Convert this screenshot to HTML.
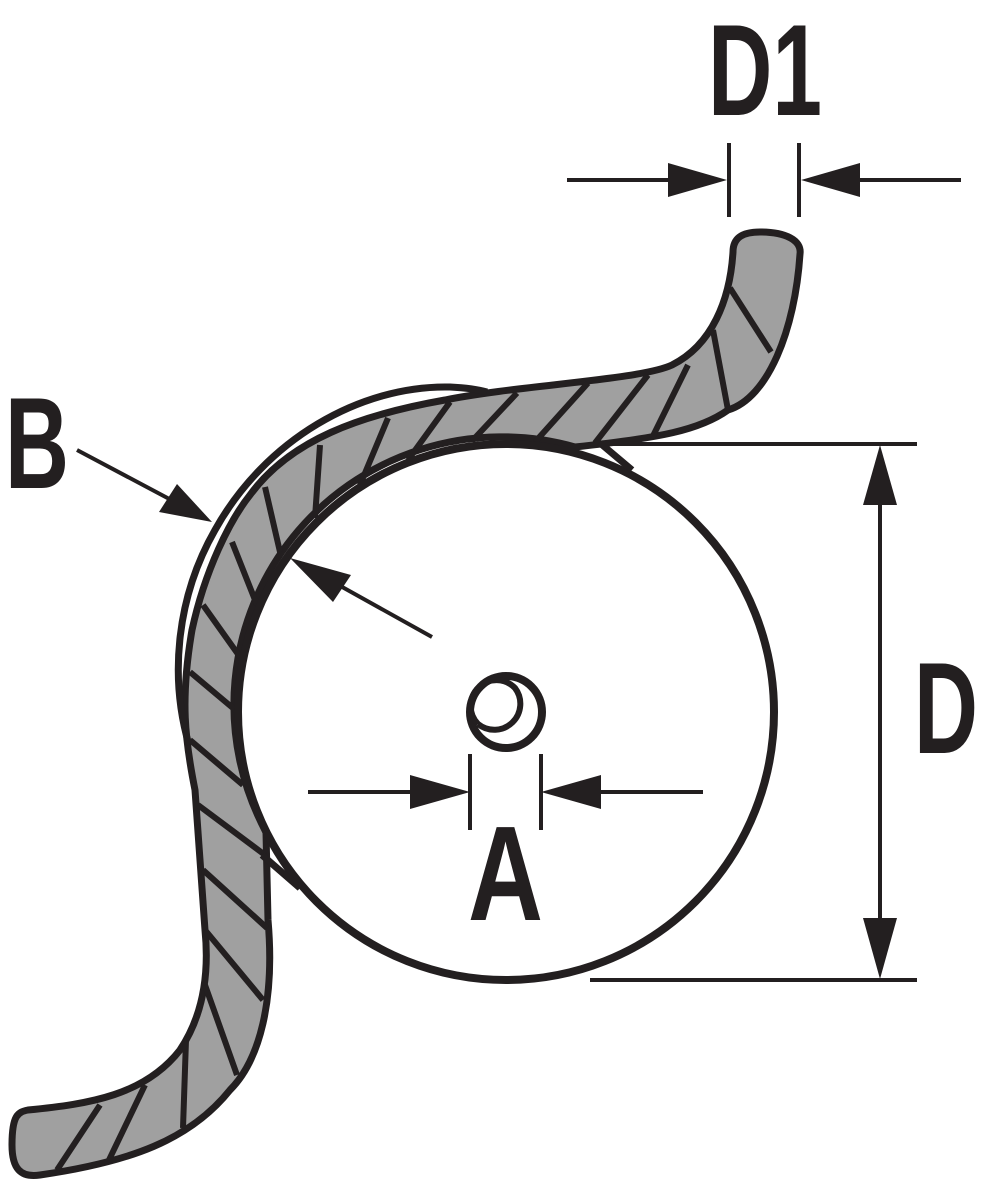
<!DOCTYPE html>
<html><head><meta charset="utf-8"><style>html,body{margin:0;padding:0;background:#fff}svg{display:block}</style></head>
<body>
<svg width="983" height="1181" viewBox="0 0 983 1181" xmlns="http://www.w3.org/2000/svg">
<g fill="none" stroke="#231f20" stroke-linejoin="round" stroke-linecap="butt">
<!-- band -->
<path fill="#a0a0a0" stroke-width="7" d="M733,252 C733,236 745,232 760,232 C785,232 802,240 800,254 C795,330 768,398 728,410 C700,430 660,438 575,447 A268,268 0 0 0 266,832 L268,920 C275,1000 260,1060 230,1090 C190,1140 130,1162 40,1175 C20,1178 12,1168 12,1145 C12,1115 18,1112 28,1110 C90,1104 145,1095 180,1050 C200,1020 210,980 205,930 L195,790 C185,740 180,700 192,630 C205,570 230,520 250,495 C290,440 360,415 445,400 C520,385 640,380 672,365 C712,345 730,300 733,252 Z"/>
<!-- hatch -->
<g stroke-width="6">
<path d="M730,288 L771,352 M713,330 L728,410 M688,365 L652,438 M648,375 L595,443 M588,383 L535,442 M517,393 L472,441 M450,402 L408,460 M388,418 L360,485 M320,445 L315,518 M265,487 L280,552 M232,542 L257,605 M203,605 L240,657 M190,672 L240,714 M190,740 L243,785 M198,805 L265,855 M203,870 L267,928 M205,930 L263,1000 M205,985 L237,1075 M186,1040 L183,1128 M145,1085 L108,1162 M100,1105 L57,1170"/>
</g>
<!-- outer arc B -->
<path stroke-width="7" d="M189,745 C170,680 175,600 215,530 C265,440 360,385 450,387 C470,388 480,390 487,392"/>
<!-- big circle -->
<circle cx="506" cy="712" r="268" stroke-width="8" fill="none"/>
<path stroke-width="7" d="M262,855 L300,888 M600,443 L632,470"/>
<!-- small circle -->
<circle cx="506" cy="712" r="36" stroke-width="8" fill="#fff"/>
<path stroke-width="6" d="M478,724 A22,22 0 1 1 515,688 A26,26 0 0 1 478,724"/>
<!-- dimension lines -->
<g stroke-width="4">
<path d="M567,180 L700,180 M860,180 L961,180 M729,143 L729,217 M799,143 L799,217"/>
<path d="M308,792 L440,792 M600,792 L703,792 M470,754 L470,830 M541,754 L541,830"/>
<path d="M600,444 L917,444 M590,980 L917,980 M880,470 L880,950"/>
<path d="M77,450 L175,502 M432,637 L335,583"/>
</g>
</g>
<g fill="#231f20">
<polygon points="727,180 668,163 668,197"/>
<polygon points="801,180 860,163 860,197"/>
<polygon points="470,792 410,775 410,809"/>
<polygon points="541,792 601,775 601,809"/>
<polygon points="880,445 863,505 897,505"/>
<polygon points="880,979 863,918 897,918"/>
<polygon points="212,522 159,512 177,484"/>
<polygon points="290,558 351,575 333,602"/>
</g>
<g font-family="Liberation Sans, sans-serif" font-weight="bold" fill="#231f20">
<text x="708" y="115" font-size="130" textLength="114" lengthAdjust="spacingAndGlyphs">D1</text>
<text x="5" y="488" font-size="130" textLength="64" lengthAdjust="spacingAndGlyphs">B</text>
<text x="914" y="753" font-size="130" textLength="64" lengthAdjust="spacingAndGlyphs">D</text>
<text x="468" y="920" font-size="135" textLength="75" lengthAdjust="spacingAndGlyphs">A</text>
</g>
</svg>
</body></html>
